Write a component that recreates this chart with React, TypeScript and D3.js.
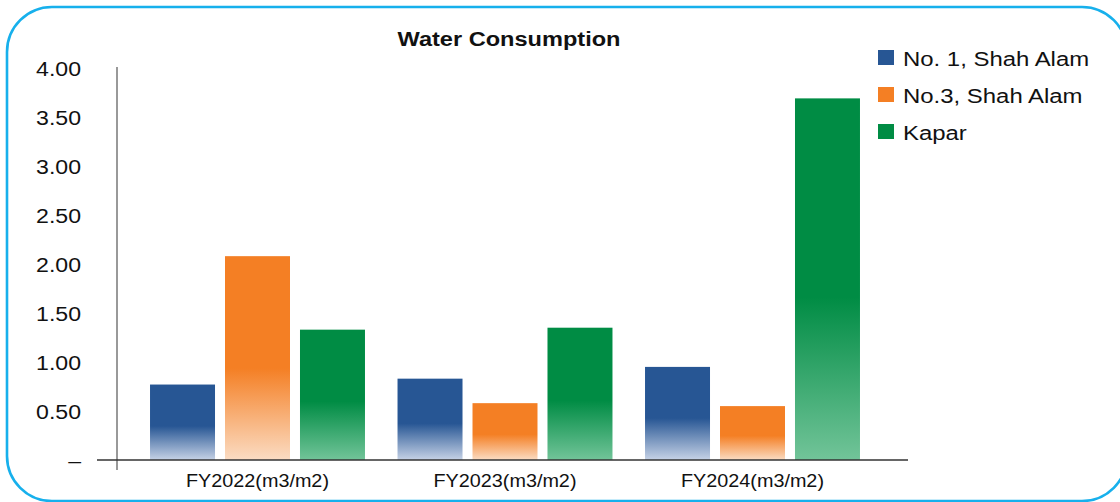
import React from "react";
import * as d3 from "d3";

const categories = ["FY2022(m3/m2)", "FY2023(m3/m2)", "FY2024(m3/m2)"];
const seriesNames = ["No. 1, Shah Alam", "No.3, Shah Alam", "Kapar"];
const shahAlam1 = [0.77, 0.83, 0.95];
const shahAlam3 = [2.08, 0.58, 0.55];
const kapar = [1.33, 1.35, 3.69];
const yTicks = [0, 0.5, 1, 1.5, 2, 2.5, 3, 3.5, 4];
const yTickLabels = ["–", "0.50", "1.00", "1.50", "2.00", "2.50", "3.00", "3.50", "4.00"];

const colors = ["#275694", "#f47f24", "#008c44"];
const lightColors = ["#c6d2e6", "#fbdcc3", "#72c499"];

const W = 1120;
const H = 502;
const FONT = "'Liberation Sans', Arial, Helvetica, sans-serif";
const SX = 1.1;

export default function App() {
  const series = [shahAlam1, shahAlam3, kapar];
  const y = d3.scaleLinear().domain([0, 4]).range([460, 68]);
  const x0 = d3.scaleBand<string>().domain(categories).range([133.75, 876.25]).padding(0);
  const x1 = d3
    .scaleBand<string>()
    .domain(seriesNames)
    .range([0, x0.bandwidth()])
    .paddingInner(0.1333)
    .paddingOuter(0.217);

  return (
    <svg
      width={W}
      height={H}
      style={{ position: "absolute", left: 0, top: 0, background: "#fff" }}
      fontFamily={FONT}
    >
      <defs>
        {colors.map((c, i) => (
          <linearGradient key={i} id={`g${i}`} x1="0" y1="0" x2="0" y2="1">
            <stop offset="0" stopColor={c} />
            <stop offset="0.55" stopColor={c} />
            <stop offset="1" stopColor={lightColors[i]} />
          </linearGradient>
        ))}
      </defs>
      <rect x={7} y={7} width={1120} height={494} rx={45} ry={45} fill="none" stroke="#17b0ec" strokeWidth={2.6} />

      <g transform={`translate(509,46) scale(1.15,1)`}>
        <text x={0} y={0} textAnchor="middle" fontWeight="bold" fontSize={20.5} fill="#111">
          Water Consumption
        </text>
      </g>

      {/* y tick labels */}
      {yTicks.map((t, i) => (
        <g key={t} transform={`translate(81,${y(t) + 7.5}) scale(${SX},1)`}>
          <text x={0} y={0} textAnchor="end" fontSize={21} fill="#111">
            {yTickLabels[i]}
          </text>
        </g>
      ))}

      {/* bars */}
      {categories.map((c, ci) =>
        series.map((s, si) => (
          <rect
            key={`${c}-${si}`}
            x={(x0(c) ?? 0) + (x1(seriesNames[si]) ?? 0)}
            y={y(s[ci])}
            width={x1.bandwidth()}
            height={y(0) - y(s[ci])}
            fill={`url(#g${si})`}
          />
        ))
      )}

      {/* axes */}
      <line x1={117} x2={117} y1={67} y2={470} stroke="#777" strokeWidth={1.5} />
      <line x1={97} x2={908} y1={460} y2={460} stroke="#333" strokeWidth={1.5} />

      {/* x labels */}
      {categories.map((c) => (
        <g key={c} transform={`translate(${(x0(c) ?? 0) + x0.bandwidth() / 2},487) scale(${SX},1)`}>
          <text x={0} y={0} textAnchor="middle" fontSize={18} fill="#111">
            {c}
          </text>
        </g>
      ))}

      {/* legend */}
      {seriesNames.map((n, i) => (
        <g key={n} transform={`translate(878,${50 + i * 37})`}>
          <rect x={0} y={0} width={16} height={15} fill={colors[i]} />
          <g transform={`translate(25,16) scale(1.14,1)`}>
            <text x={0} y={0} fontSize={21} fill="#111">
              {n}
            </text>
          </g>
        </g>
      ))}
    </svg>
  );
}
